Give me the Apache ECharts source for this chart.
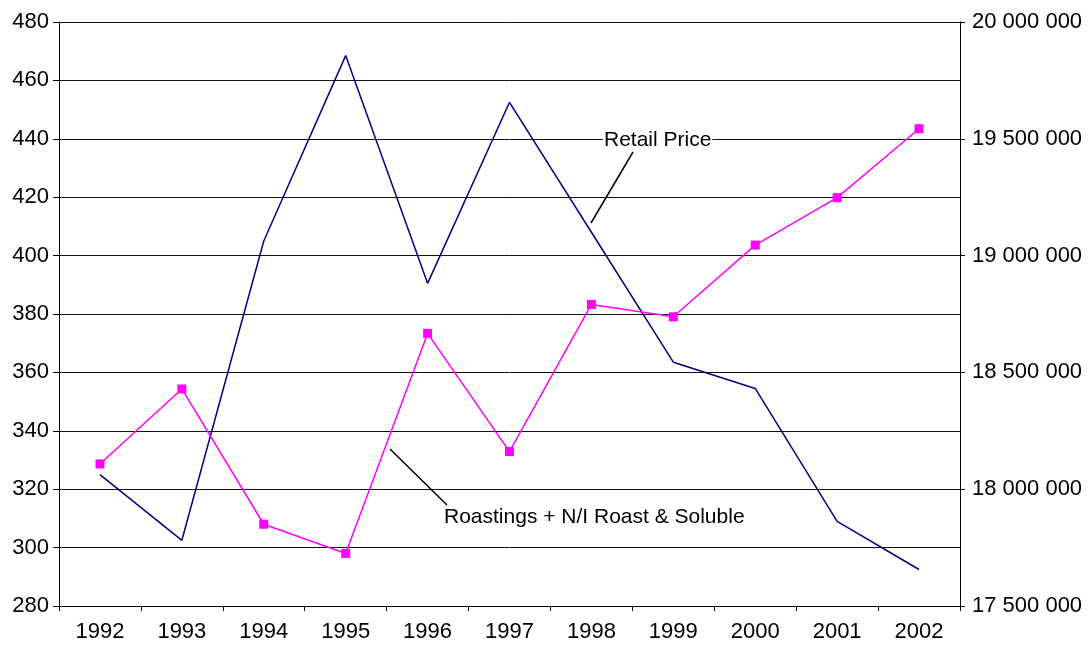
<!DOCTYPE html>
<html>
<head>
<meta charset="utf-8">
<script src="https://cdn.jsdelivr.net/npm/echarts@6/dist/echarts.min.js"></script>
<style>
  html, body { margin: 0; padding: 0; background: #fff; }
  #chart { width: 1090px; height: 645px; }
</style>
</head>
<body>
<div id="chart"></div>
<script>
    // data
    var years = ['1992', '1993', '1994', '1995', '1996', '1997', '1998', '1999', '2000', '2001', '2002'];
    var retailPrice = [325, 302.5, 405, 468.5, 390.5, 452.5, 408, 363.5, 354.5, 309, 292.5];
    var roastings = [18108000, 18429000, 17850000, 17725000, 18667000, 18161000, 18791000, 18738000, 19045000, 19248000, 19543000];

    var chart = echarts.init(document.getElementById('chart'));
    var font = 'Liberation Sans, Arial, sans-serif';

    function spaced(v) {
        return String(v).replace(/\B(?=(\d{3})+(?!\d))/g, ' ');
    }

    var option = {
        backgroundColor: '#fff',
        animation: false,
        grid: {left: 59, right: 130, top: 22, bottom: 39},
        xAxis: {
            type: 'category',
            data: years,
            boundaryGap: true,
            axisLine: {lineStyle: {color: '#000', width: 1}},
            axisTick: {show: true, length: 5, inside: false, lineStyle: {color: '#000'}},
            axisLabel: {color: '#000', fontSize: 22, fontFamily: font, margin: 15},
            splitLine: {show: false}
        },
        yAxis: [
            {
                type: 'value',
                min: 280,
                max: 480,
                interval: 20,
                position: 'left',
                axisLine: {show: true, lineStyle: {color: '#000', width: 1}},
                axisTick: {show: true, length: 6, lineStyle: {color: '#000'}},
                axisLabel: {color: '#000', fontSize: 22, fontFamily: font, margin: 10},
                splitLine: {show: true, lineStyle: {color: '#111', width: 1}}
            },
            {
                type: 'value',
                min: 17500000,
                max: 20000000,
                interval: 500000,
                position: 'right',
                axisLine: {show: true, lineStyle: {color: '#000', width: 1}},
                axisTick: {show: true, length: 5, lineStyle: {color: '#000'}},
                axisLabel: {color: '#000', fontSize: 22, fontFamily: font, margin: 12, formatter: spaced},
                splitLine: {show: false}
            }
        ],
        series: [
            {
                name: 'Retail Price',
                type: 'line',
                yAxisIndex: 0,
                data: retailPrice,
                showSymbol: false,
                symbol: 'none',
                lineStyle: {color: '#000080', width: 1.5},
                itemStyle: {color: '#000080'},
                z: 3
            },
            {
                name: 'Roastings + N/I Roast & Soluble',
                type: 'line',
                yAxisIndex: 1,
                data: roastings,
                symbol: 'rect',
                symbolSize: 9,
                lineStyle: {color: '#ff00ff', width: 1.5},
                itemStyle: {color: '#ff00ff'},
                z: 4
            }
        ],
        graphic: [
            {
                type: 'line',
                shape: {x1: 633, y1: 152, x2: 591, y2: 223},
                style: {stroke: '#000', lineWidth: 1.5},
                z: 10
            },
            {
                type: 'text',
                left: 603,
                top: 130,
                style: {
                    text: 'Retail Price',
                    fill: '#000',
                    font: '21px ' + font,
                    backgroundColor: '#fff',
                    padding: [0, 1]
                },
                z: 10
            },
            {
                type: 'line',
                shape: {x1: 390, y1: 449, x2: 447, y2: 505},
                style: {stroke: '#000', lineWidth: 1.5},
                z: 10
            },
            {
                type: 'text',
                left: 444,
                top: 507,
                style: {
                    text: 'Roastings + N/I Roast & Soluble',
                    fill: '#000',
                    font: '21px ' + font
                },
                z: 10
            }
        ]
    };
    chart.setOption(option);
</script>
</body>
</html>
